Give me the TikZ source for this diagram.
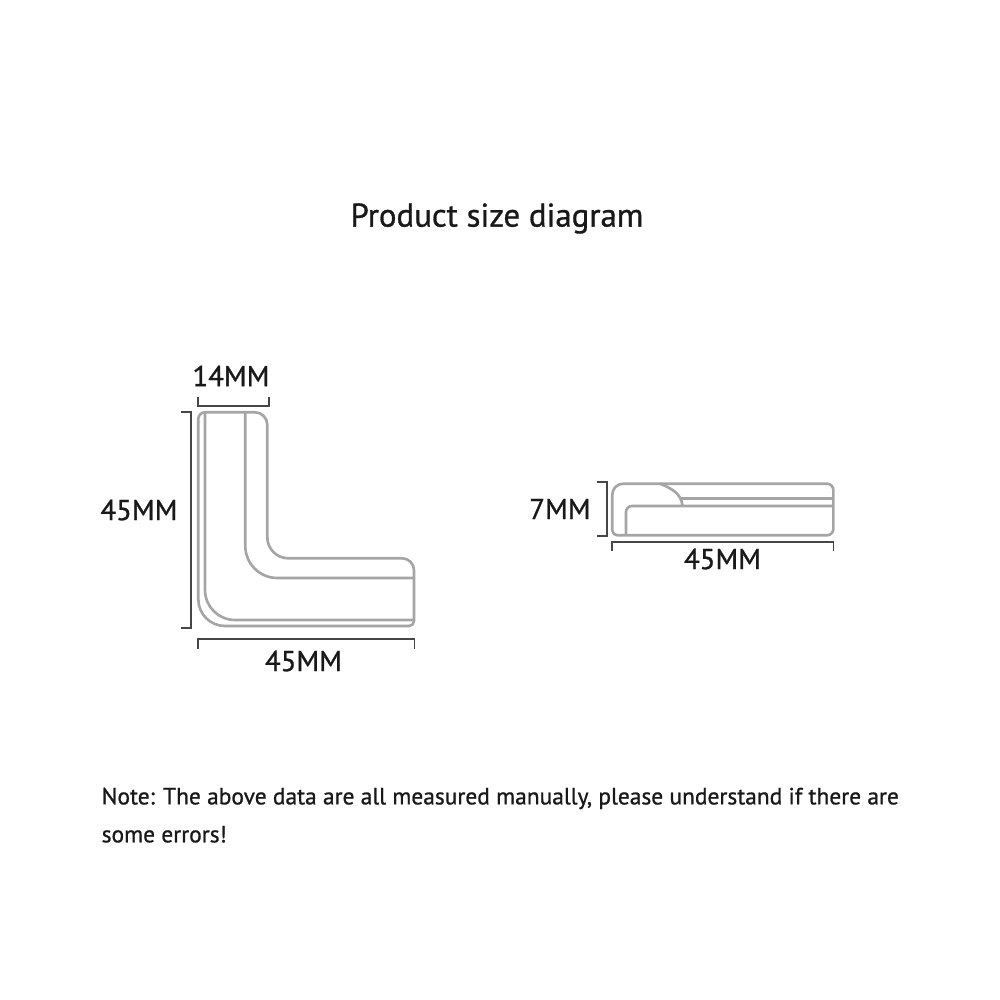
\documentclass[tikz,border=0pt]{standalone}
\usepackage{fontspec}
\setmainfont[FakeBold=0.9]{PT Sans}
\usetikzlibrary{positioning}
\definecolor{outline}{RGB}{165,165,165}
\definecolor{dimline}{RGB}{70,70,70}
\definecolor{inktext}{RGB}{25,25,25}
\tikzset{
  part/.style={draw=outline, line width=0.75pt, line join=round},
  dimen/.style={draw=dimline, line width=0.5pt},
  size/.style={text=inktext, font=\fontsize{8.2pt}{10pt}\selectfont, inner sep=0pt},
}
\begin{document}
\begin{tikzpicture}
        \useasboundingbox (0,0) rectangle (10,10);

        \node[text=inktext, font=\fontsize{9.35pt}{11pt}\selectfont, inner sep=0pt] at (4.97, 7.815)(title){Product size diagram};

        % L shape, top view
        \draw[part] (2.05, 5.877) -- (2.548, 5.877) arc (90:0:0.125) -- (2.673, 4.627) arc (180:270:0.21) -- (4.02, 4.417) arc (90:0:0.12) -- (4.14, 3.79) arc (0:-90:0.05) -- (2.25, 3.74) arc (270:180:0.267) -- (1.983, 5.81) arc (180:90:0.067) -- cycle;
        \draw[part] (2.05, 5.877) -- (2.05, 4.1) arc (180:270:0.3) -- (4.14, 3.8);
        \draw[part] (2.453, 5.877) -- (2.453, 4.54) arc (180:270:0.32) -- (4.14, 4.22);

        % flat shape, side view
        \draw[part] (6.233, 5.163) -- (8.27, 5.163) arc (90:0:0.063) -- (8.333, 4.71) arc (0:-90:0.063) -- (6.173, 4.647) arc (270:180:0.05) -- (6.123, 5.053) arc (180:90:0.11) -- cycle;
        \draw[part] (6.6, 5.163) to[out=-22, in=95] (6.825, 4.94);
        \draw[part] (6.81, 5.017) -- (8.333, 5.017);
        \draw[part] (6.26, 4.647) -- (6.26, 4.88) arc (180:90:0.06) -- (8.333, 4.94);

        % brackets
        \coordinate (topa) at (1.983, 5.943);
        \coordinate (topb) at (2.693, 5.943);
        \coordinate (lefta) at (1.907, 5.88);
        \coordinate (leftb) at (1.907, 3.72);
        \coordinate (bota) at (1.983, 3.607);
        \coordinate (botb) at (4.145, 3.607);
        \coordinate (sidea) at (6.067, 5.177);
        \coordinate (sideb) at (6.067, 4.643);
        \coordinate (flata) at (6.123, 4.577);
        \coordinate (flatb) at (8.335, 4.577);

        \draw[dimen] (topa) ++(0, 0.09) -- (topa) -- (topb) -- ++(0, 0.09);
        \draw[dimen] (lefta) ++(-0.095, 0) -- (lefta) -- (leftb) -- ++(-0.095, 0);
        \draw[dimen] (bota) ++(0, -0.095) -- (bota) -- (botb) -- ++(0, -0.095);
        \draw[dimen] (sidea) ++(-0.095, 0) -- (sidea) -- (sideb) -- ++(-0.095, 0);
        \draw[dimen] (flata) ++(0, -0.09) -- (flata) -- (flatb) -- ++(0, -0.09);

        \node[size] at (2.31, 6.24)(width){14MM};
        \node[size] at (1.39, 4.9)(height){45MM};
        \node[size] at (3.035, 3.39)(length){45MM};
        \node[size] at (5.6, 4.91)(thick){7MM};
        \node[size] at (7.225, 4.41)(flatlen){45MM};

        \node[text=inktext, font=\fontsize{6.67pt}{10.8pt}\selectfont, inner sep=0pt, align=left, anchor=north west] at (1.01, 2.13)(note){Note: The above data are all measured manually, please understand if there are\\some errors!};
    \end{tikzpicture}
\end{document}
